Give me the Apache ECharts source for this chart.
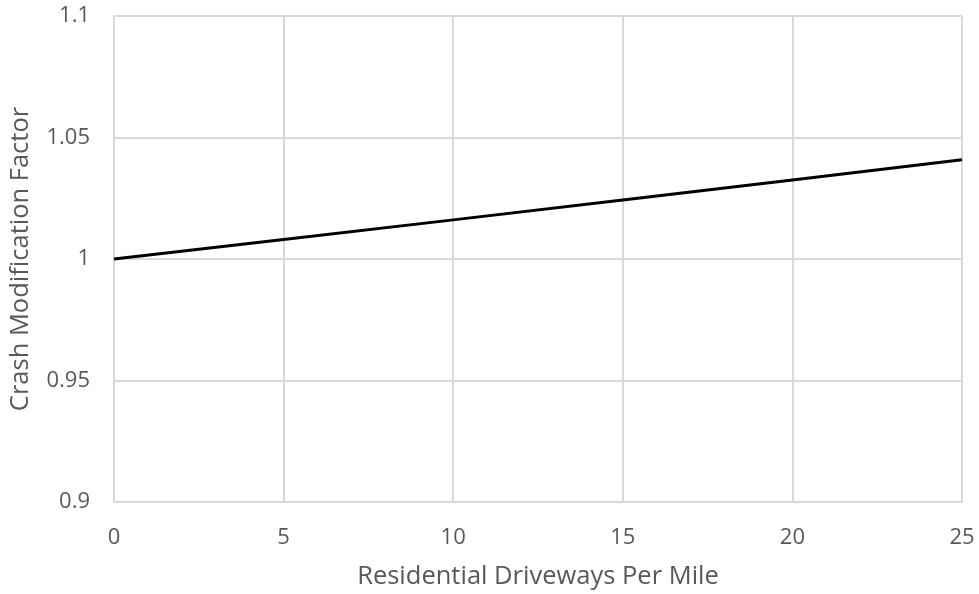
<!DOCTYPE html>
<html>
<head>
<meta charset="utf-8">
<script src="https://cdn.jsdelivr.net/npm/echarts@6/dist/echarts.min.js"></script>
<style>
  html, body { margin: 0; padding: 0; background: #fff; }
  #chart { width: 979px; height: 594px; }
</style>
</head>
<body>
<div id="chart"></div>
<script>
// Driveway density (per mile) and the resulting crash modification factor
const driveways = [0, 5, 10, 15, 20, 25];
const cmf = [1.0, 1.008, 1.0161, 1.0243, 1.0325, 1.0408];

const xTitle = 'Residential Driveways Per Mile';
const yTitle = 'Crash Modification Factor';

const textColor = '#595959';
const gridColor = '#d9d9d9';
const fontFamily = '"Open Sans", "Noto Sans", sans-serif';

const chart = echarts.init(document.getElementById('chart'), null, { renderer: 'canvas' });
chart.setOption({
  animation: false,
  grid: {
    left: 114, right: 17, top: 16, bottom: 92,
    containLabel: false,
    outerBoundsMode: 'none'
  },
  xAxis: {
    type: 'value',
    min: 0, max: 25, interval: 5,
    name: xTitle,
    nameLocation: 'middle',
    nameGap: 62,
    nameTextStyle: { color: textColor, fontSize: 25.5, fontFamily },
    axisLine: { show: true, lineStyle: { color: gridColor, width: 2 } },
    axisTick: { show: false },
    axisLabel: { color: textColor, fontSize: 22, fontFamily, margin: 25 },
    splitLine: { show: true, lineStyle: { color: gridColor, width: 2 } }
  },
  yAxis: {
    type: 'value',
    min: 0.9, max: 1.1, interval: 0.05,
    name: yTitle,
    nameLocation: 'middle',
    nameGap: 80,
    nameTextStyle: { color: textColor, fontSize: 25.5, fontFamily },
    axisLine: { show: true, lineStyle: { color: gridColor, width: 2 } },
    axisTick: { show: false },
    axisLabel: {
      color: textColor, fontSize: 22, fontFamily, margin: 24,
      formatter: v => String(parseFloat(v.toFixed(2)))
    },
    splitLine: { show: true, lineStyle: { color: gridColor, width: 2 } }
  },
  series: [{
    type: 'line',
    data: driveways.map((d, i) => [d, cmf[i]]),
    showSymbol: false,
    lineStyle: { color: '#000', width: 3 }
  }]
});
</script>
</body>
</html>
